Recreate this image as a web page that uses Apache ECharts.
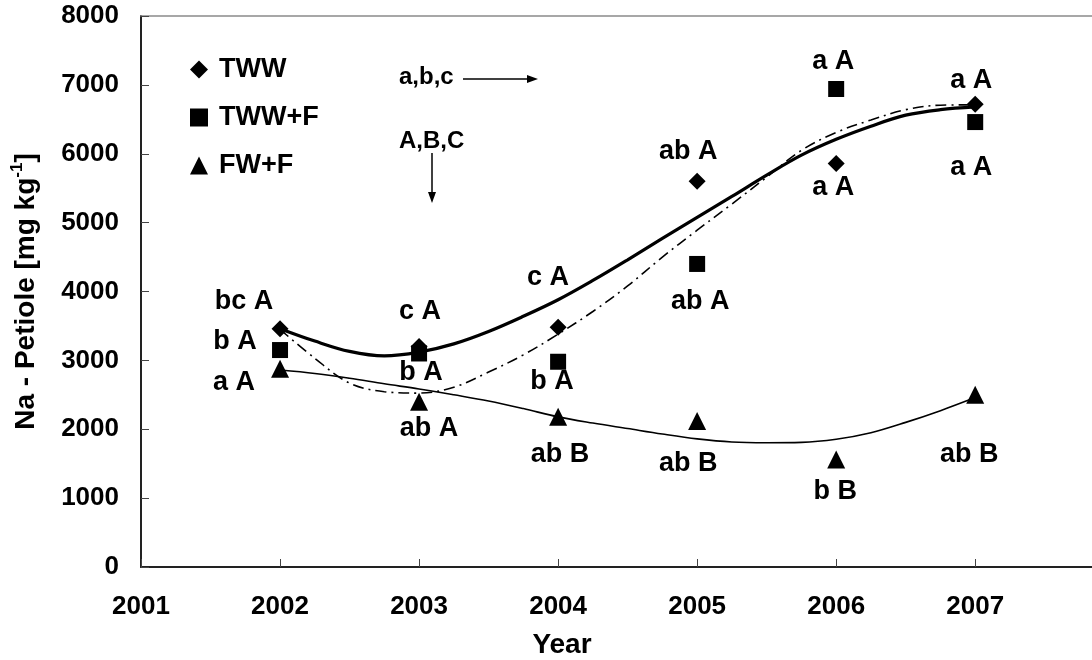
<!DOCTYPE html>
<html>
<head>
<meta charset="utf-8">
<title>Na - Petiole</title>
<script src="https://cdn.jsdelivr.net/npm/echarts@6/dist/echarts.min.js"></script>
<style>
  html, body { margin: 0; padding: 0; background: #fff; }
  #chart { width: 1092px; height: 660px; }
</style>
</head>
<body>
<div id="chart"></div>
<script>
// Sampling years and measured petiole Na (mg/kg) per treatment
const years = [2002, 2003, 2004, 2005, 2006, 2007];
const tww  = [3460, 3200, 3480, 5600, 5860, 6720];
const twwF = [3150, 3100, 2980, 4400, 6940, 6460];
const fwF  = [2880, 2400, 2180, 2120, 1560, 2500];

// Significance letters (lower case: between years, upper case: between treatments)
const twwLetters  = ['bc A', 'c A', 'c A', 'ab A', 'a A', 'a A'];
const twwFLetters = ['b A', 'b A', 'b A', 'ab A', 'a A', 'a A'];
const fwFLetters  = ['a A', 'ab A', 'ab B', 'ab B', 'b B', 'ab B'];

// Fitted trend curves, sampled each quarter year
const trendYears = [2002, 2002.25, 2002.5, 2002.75, 2003, 2003.25, 2003.5, 2003.75,
                    2004, 2004.25, 2004.5, 2004.75, 2005, 2005.25, 2005.5, 2005.75,
                    2006, 2006.25, 2006.5, 2006.75, 2007];
const twwTrend  = [3460, 3280, 3130, 3065, 3120, 3240, 3420, 3640,
                   3880, 4160, 4460, 4770, 5075, 5380, 5690, 5980,
                   6210, 6400, 6560, 6640, 6680];
const twwFTrend = [3450, 3030, 2670, 2545, 2525, 2610, 2830, 3080,
                   3380, 3710, 4080, 4500, 4890, 5270, 5660, 6050,
                   6310, 6490, 6640, 6705, 6710];
const fwFTrend  = [2860, 2810, 2740, 2660, 2585, 2500, 2410, 2300,
                   2180, 2090, 2010, 1930, 1860, 1815, 1805, 1810,
                   1855, 1950, 2100, 2270, 2460];

// Axis ticks; the year axis runs on past the right edge of the page
const xMin = 2001, xMax = 2007.84, xStep = 1, lastYearLabel = 2007;
const yMin = 0, yMax = 8000, yStep = 1000;

// Label placement around each marker, in pixels
const twwLabelOffsets  = [[-36, -27], [1, -35], [-10, -50], [-9, -30], [-3, 24], [-4, -24]];
const twwFLabelOffsets = [[-45, -8], [2, 19], [-6, 20], [3, 38], [-3, -27], [-4, 45]];
const fwFLabelOffsets  = [[-46, 14], [10, 27], [2, 38], [-9, 43], [-1, 32], [-6, 60]];

const FONT = '"Liberation Sans", Arial, Helvetica, sans-serif';
const INK = '#000';

function pointsWithLabels(values, letters, offsets) {
  return values.map((v, i) => ({
    value: [years[i], v],
    label: { formatter: letters[i], offset: offsets[i] }
  }));
}

function curve(values) {
  return values.map((v, i) => [trendYears[i], v]);
}

const labelStyle = {
  show: true,
  position: 'inside',
  color: INK,
  fontFamily: FONT,
  fontWeight: 'bold',
  fontSize: 27,
  align: 'center',
  verticalAlign: 'middle'
};

function markerSeries(name, symbol, size, values, letters, offsets) {
  return {
    name: name,
    type: 'scatter',
    symbol: symbol,
    symbolSize: size,
    itemStyle: { color: INK, opacity: 1 },
    z: 4,
    label: labelStyle,
    data: pointsWithLabels(values, letters, offsets)
  };
}

function trendSeries(name, values, width, type) {
  return {
    name: name,
    type: 'line',
    smooth: 0.35,
    showSymbol: false,
    symbol: 'none',
    lineStyle: { color: INK, width: width, type: type },
    z: 2,
    silent: true,
    data: curve(values)
  };
}

const axisFont = { color: INK, fontFamily: FONT, fontWeight: 'bold', fontSize: 26 };

const chart = echarts.init(document.getElementById('chart'), null, { renderer: 'canvas' });

chart.setOption({
  backgroundColor: '#fff',
  animation: false,
  grid: { left: 141, right: 0, top: 16, bottom: 93, outerBoundsMode: 'none', containLabel: false },
  legend: {
    data: ['TWW', 'TWW+F', 'FW+F'],
    orient: 'vertical',
    left: 190,
    top: 56,
    padding: 0,
    itemWidth: 18,
    itemHeight: 18,
    itemGap: 21,
    textStyle: {
      color: INK,
      fontFamily: FONT,
      fontWeight: 'bold',
      fontSize: 27,
      lineHeight: 26,
      padding: [0, 0, 0, 6]
    }
  },
  xAxis: [
    {
      type: 'value',
      min: xMin,
      max: xMax,
      interval: xStep,
      name: 'Year',
      nameLocation: 'middle',
      nameGap: 64,
      nameTextStyle: {
        color: INK,
        fontFamily: FONT,
        fontWeight: 'bold',
        fontSize: 28,
        padding: [0, 109, 0, 0]
      },
      axisLine: { show: true, onZero: false, lineStyle: { color: '#222', width: 2 } },
      axisTick: { show: true, inside: true, length: 8, lineStyle: { color: '#444', width: 1 } },
      splitLine: { show: false },
      axisLabel: Object.assign({}, axisFont, {
        margin: 27,
        showMaxLabel: false,
        formatter: v => (Number.isInteger(v) && v <= lastYearLabel ? String(v) : '')
      })
    },
    {
      // top edge of the plot frame
      type: 'value',
      position: 'top',
      min: xMin,
      max: xMax,
      axisLine: { show: true, onZero: false, lineStyle: { color: '#8a8a8a', width: 1.5 } },
      axisTick: { show: false },
      axisLabel: { show: false },
      splitLine: { show: false }
    }
  ],
  yAxis: {
    type: 'value',
    min: yMin,
    max: yMax,
    interval: yStep,
    name: 'Na - Petiole [mg kg{sup|-1}]',
    nameLocation: 'middle',
    nameGap: 98,
    nameTextStyle: {
      color: INK,
      fontFamily: FONT,
      fontWeight: 'bold',
      fontSize: 28,
      lineHeight: 34,
      rich: {
        sup: {
          color: INK,
          fontFamily: FONT,
          fontWeight: 'bold',
          fontSize: 17,
          lineHeight: 34,
          verticalAlign: 'top',
          padding: [0, 0, 14, 0]
        }
      }
    },
    axisLine: { show: true, onZero: false, lineStyle: { color: '#222', width: 2 } },
    axisTick: { show: true, inside: true, length: 8, lineStyle: { color: '#444', width: 1 } },
    splitLine: { show: false },
    axisLabel: Object.assign({}, axisFont, {
      margin: 22,
      formatter: v => String(v)
    })
  },
  series: [
    trendSeries('TWW trend', twwTrend, 3.2, 'solid'),
    trendSeries('TWW+F trend', twwFTrend, 1.6, [11, 5, 2, 5]),
    trendSeries('FW+F trend', fwFTrend, 1.6, 'solid'),
    markerSeries('TWW+F', 'rect', 16, twwF, twwFLetters, twwFLabelOffsets),
    markerSeries('TWW', 'diamond', 17, tww, twwLetters, twwLabelOffsets),
    markerSeries('FW+F', 'triangle', 18, fwF, fwFLetters, fwFLabelOffsets)
  ],
  graphic: [
    // note on lower-case letters: comparison along the years
    {
      type: 'text', left: 399, top: 65, z: 10,
      style: { text: 'a,b,c', fill: INK, font: 'bold 24px ' + FONT }
    },
    {
      type: 'line', z: 10,
      shape: { x1: 463, y1: 79, x2: 530, y2: 79 },
      style: { stroke: INK, lineWidth: 1.5 }
    },
    {
      type: 'polygon', z: 10,
      shape: { points: [[538, 79], [527, 75], [527, 83]] },
      style: { fill: INK }
    },
    // note on upper-case letters: comparison between treatments
    {
      type: 'text', left: 399, top: 129, z: 10,
      style: { text: 'A,B,C', fill: INK, font: 'bold 24px ' + FONT }
    },
    {
      type: 'line', z: 10,
      shape: { x1: 432, y1: 153, x2: 432, y2: 195 },
      style: { stroke: INK, lineWidth: 1.5 }
    },
    {
      type: 'polygon', z: 10,
      shape: { points: [[432, 203], [428, 192], [436, 192]] },
      style: { fill: INK }
    }
  ]
});
</script>
</body>
</html>
